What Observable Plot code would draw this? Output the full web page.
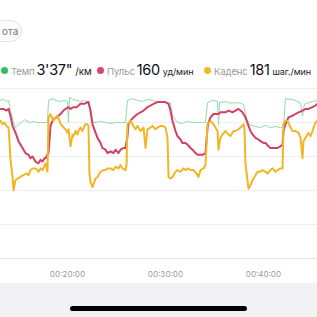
<!DOCTYPE html>
<html><head><meta charset="utf-8">
<script src="https://cdn.jsdelivr.net/npm/d3@7"></script>
<script src="https://cdn.jsdelivr.net/npm/@observablehq/plot@0.6"></script>
<style>
html,body{margin:0;padding:0;background:#fff;}
body{width:317px;height:317px;overflow:hidden;position:relative;font-family:Inter,"Noto Sans",sans-serif;}
.btn{position:absolute;left:-24px;top:20px;width:46px;height:22px;border:1px solid #e6e6e6;border-radius:12px;background:#fbfbfb;box-sizing:border-box;}
.btn span{position:absolute;left:25px;top:4px;font-size:10px;color:#777;}
.leg{position:absolute;top:61px;white-space:nowrap;display:flex;align-items:baseline;}
.dot{display:inline-block;width:7px;height:7px;border-radius:50%;margin-right:3px;position:relative;top:-1px;}
.lab{font-size:9.5px;color:#9a9a9a;margin-right:2px;letter-spacing:-0.1px;}
.val{font-size:14.5px;color:#111;margin-right:3px;letter-spacing:-0.3px;}
.unit{font-size:9px;color:#222;letter-spacing:-0.1px;}
#chart{position:absolute;left:0;top:80px;}
.foot{position:absolute;left:0;top:283px;width:317px;height:34px;background:#f2f2f5;}
.bar{position:absolute;left:70px;top:306px;width:177px;height:5px;border-radius:3px;background:#000;}
</style></head>
<body>
<div class="btn"><span>ота</span></div>
<div class="leg" style="left:1px"><span class="dot" style="background:#34c15a"></span><span class="lab">Темп</span><span class="val">3'37"</span><span class="unit" style="font-size:10px">/км</span></div>
<div class="leg" style="left:97px"><span class="dot" style="background:#d9486a"></span><span class="lab">Пульс</span><span class="val">160</span><span class="unit">уд/мин</span></div>
<div class="leg" style="left:204px"><span class="dot" style="background:#f5b62a"></span><span class="lab">Каденс</span><span class="val">181</span><span class="unit">шаг./мин</span></div>
<div id="chart"></div>
<div class="foot"></div>
<div class="bar"></div>
<script>
// time in minutes, pace in s/km
const paceT = [13.16,13.47,13.78,13.98,14.18,14.49,14.69,15.00,15.31,15.61,15.92,16.22,16.53,16.84,17.24,17.65,17.96,18.06,18.47,18.88,19.29,19.69,20.00,20.10,20.20,20.51,20.92,21.33,21.73,22.14,22.35,22.55,22.96,23.37,23.88,24.39,24.90,25.41,25.92,26.12,26.63,27.14,27.65,28.16,28.67,29.18,29.69,30.20,30.51,30.71,31.22,31.73,32.24,32.76,33.27,33.78,34.08,34.29,34.80,35.31,35.41,35.51,36.12,36.63,37.14,37.65,37.96,38.27,38.57,39.18,39.69,40.20,40.71,41.22,41.73,42.04,42.24,42.76,43.27,43.78,43.98,44.18,44.59,45.00,45.51];
const paceV = [201,199,203,201,219,240,249,244,240,235,238,240,238,240,240,240,240,201,198,201,203,201,203,240,196,199,201,203,201,205,228,240,240,238,240,242,240,240,240,201,198,201,203,199,201,205,203,206,205,228,240,242,238,240,240,240,240,205,201,203,244,205,203,206,205,206,208,233,244,247,249,245,249,247,249,247,198,199,201,206,228,208,205,203,201];
// heart rate, bpm
const hrT = [13.16,13.47,13.78,13.98,14.18,14.39,14.69,15.00,15.20,15.51,15.71,16.02,16.22,16.43,16.73,17.04,17.24,17.45,17.65,17.76,17.96,18.06,18.27,18.47,18.57,18.88,19.08,19.29,19.59,19.80,20.10,20.31,20.61,20.92,21.33,21.73,22.04,22.14,22.35,22.55,22.86,23.06,23.37,23.57,23.88,24.08,24.39,24.69,24.90,25.20,25.41,25.71,25.92,26.12,26.22,26.43,26.73,27.14,27.45,27.76,28.16,28.47,28.78,29.18,29.49,30.00,30.31,30.51,30.71,31.02,31.22,31.53,31.73,32.04,32.24,32.55,32.76,33.06,33.27,33.57,33.78,34.08,34.29,34.39,34.59,34.90,35.10,35.41,35.61,36.12,36.43,36.84,37.14,37.45,37.86,38.16,38.47,38.67,38.88,39.18,39.49,39.69,40.00,40.20,40.51,40.71,41.02,41.43,41.73,41.94,42.04,42.24,42.55,42.96,43.27,43.57,43.98,44.29,44.59,45.00,45.31,45.51];
const hrV = [168,168,167,168,164,158,154,149,147,144,142,141,139,140,137,136,138,137,139,139,141,142,158,161,162,163,164,165,167,168,169,168,169,169,171,171,172,172,167,159,154,151,148,145,144,142,143,142,144,142,144,145,145,152,159,161,163,165,166,167,169,170,171,172,172,172,171,167,161,155,152,150,148,148,147,145,144,142,141,141,141,142,157,160,163,165,165,165,166,166,167,166,167,168,166,163,158,155,153,151,150,149,148,148,146,145,145,145,146,147,155,159,163,164,165,166,167,168,168,169,170,171];
// cadence, steps/min
const cadT = [13.16,13.37,13.57,13.78,13.98,14.08,14.18,14.39,14.49,14.69,14.90,15.20,15.51,15.82,16.02,16.22,16.43,16.73,16.94,17.04,17.24,17.45,17.76,17.96,18.06,18.27,18.47,18.57,18.78,18.98,19.18,19.29,19.49,19.59,19.80,20.00,20.10,20.31,20.51,20.61,20.82,21.02,21.12,21.33,21.53,21.73,21.84,22.04,22.14,22.24,22.35,22.55,22.86,23.06,23.37,23.67,23.88,24.08,24.39,24.69,24.90,25.20,25.41,25.61,25.92,26.02,26.12,26.43,26.73,26.94,27.14,27.45,27.76,27.96,28.16,28.47,28.67,28.98,29.18,29.49,29.69,30.00,30.20,30.31,30.51,30.71,31.02,31.22,31.53,31.84,32.04,32.35,32.55,32.86,33.16,33.37,33.57,33.88,34.08,34.29,34.59,34.90,35.10,35.31,35.41,35.61,35.82,36.12,36.43,36.63,36.94,37.14,37.45,37.65,37.96,38.06,38.16,38.47,38.67,38.88,39.18,39.39,39.69,39.90,40.20,40.41,40.71,40.92,41.22,41.43,41.73,41.94,42.04,42.24,42.45,42.76,42.96,43.27,43.57,43.78,43.98,44.08,44.29,44.59,44.80,45.00,45.31,45.51];
const cadV = [181,179,180,178,177,169,158,148,140,146,147,148,149,150,149,152,153,153,152,151,153,152,156,151,183,185,182,181,183,184,181,179,178,177,176,174,176,166,173,172,175,173,175,177,175,178,179,179,178,150,145,142,147,148,151,152,152,153,153,152,154,153,155,153,152,155,179,181,178,176,178,175,177,165,176,177,178,176,177,178,178,177,171,148,147,148,151,152,151,153,152,153,152,152,150,148,152,153,155,179,181,179,177,175,164,171,173,175,173,172,175,175,176,177,179,176,156,141,143,146,149,151,151,152,151,150,152,153,151,152,153,153,179,181,181,177,175,175,174,171,159,169,171,174,172,175,180,181];
const xTicks = [20,30,40];

// shared vertical frame (in bpm units); other series mapped onto it
const toRows = (T, V, f) => T.map((t, i) => ({t, y: f(V[i])}));
const pace = toRows(paceT, paceV, p => 180 - (p - 180) / 3);
const hr = toRows(hrT, hrV, v => v);
const cad = toRows(cadT, cadV, c => c - 20);

const chart = Plot.plot({
  width: 317, height: 203,
  marginLeft: 0, marginRight: 0, marginTop: 8, marginBottom: 25,
  x: {domain: [13.163, 45.51], axis: null, label: null},
  y: {domain: [80, 180], axis: null, label: null},
  style: {background: "transparent", overflow: "visible"},
  marks: [
    Plot.ruleY([100,120,140,160,180], {stroke: "#efefef", strokeWidth: 1}),
    Plot.ruleY([80], {stroke: "#e6e6e6", strokeWidth: 1}),
    Plot.axisX(xTicks, {tickSize: 0, tickPadding: 13, fontSize: 8, fill: "#9a9a9a", label: null,
      tickFormat: m => "00:" + m + ":00", fontFamily: "Inter, sans-serif"}),
    Plot.line(pace, {x: "t", y: "y", stroke: "#8ddcab", strokeWidth: 1}),
    Plot.line(hr, {x: "t", y: "y", stroke: "#d43f60", strokeWidth: 2}),
    Plot.line(cad, {x: "t", y: "y", stroke: "#f2b526", strokeWidth: 2})
  ]
});
document.getElementById("chart").appendChild(chart);
</script>
</body></html>
